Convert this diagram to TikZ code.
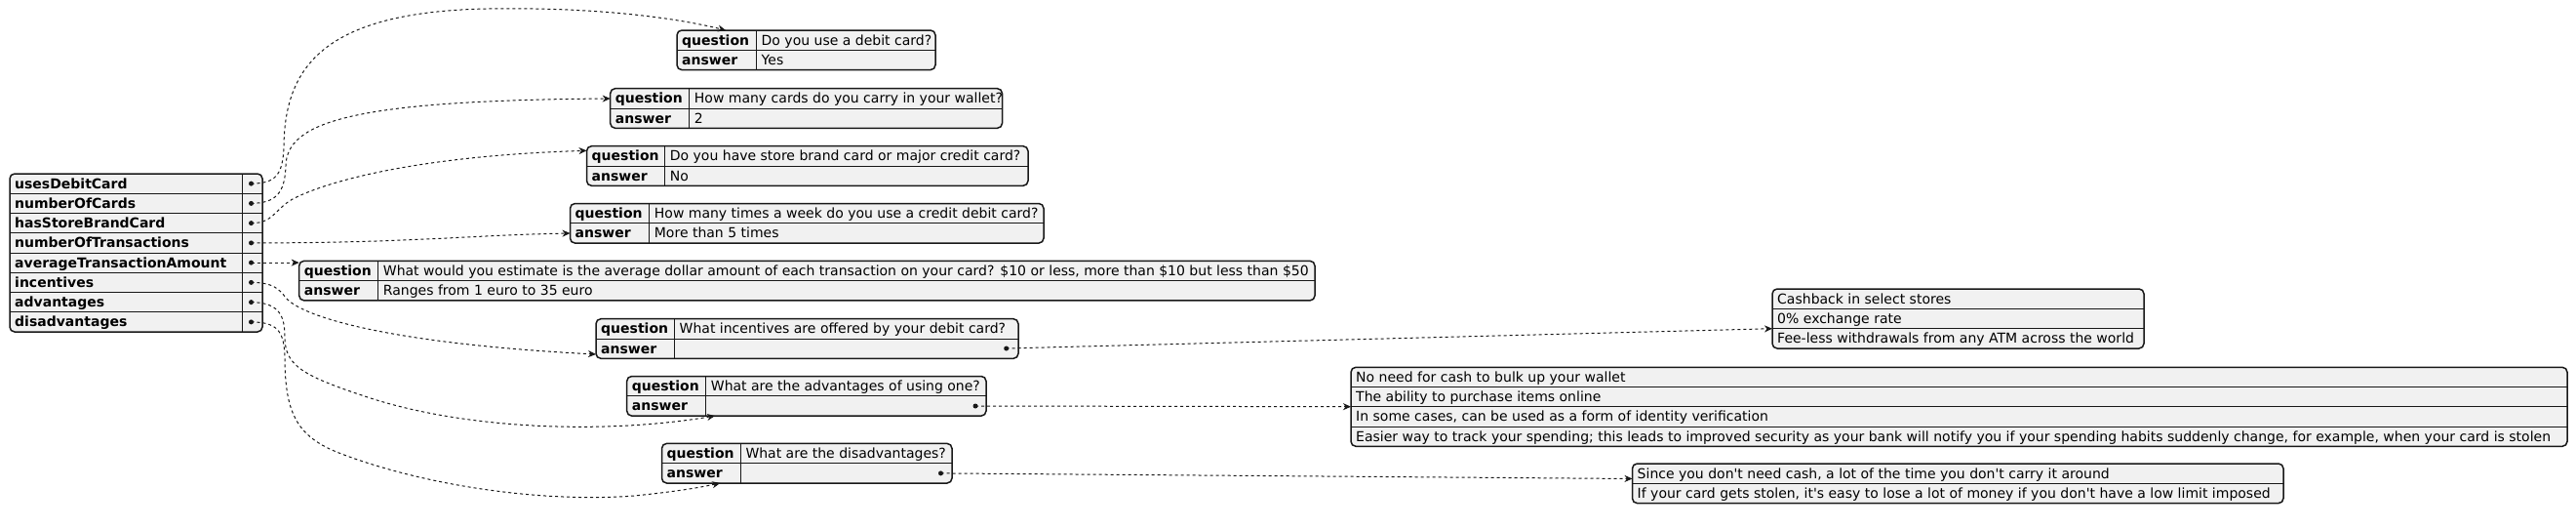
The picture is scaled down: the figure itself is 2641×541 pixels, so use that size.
\documentclass[tikz,border=0pt]{standalone}
\usepackage{fontspec}
\setmainfont{DejaVu Sans}
\usetikzlibrary{arrows.meta}
\definecolor{tblfill}{HTML}{F1F1F1}
\definecolor{linecol}{HTML}{181818}
\newcommand\objtab[7]{%
  \node[tbl, minimum width={#4-#2}, minimum height={#5-#3}] (#1) at (#2,#3) {};
  \pgfmathsetmacro\jrh{(#5-#3)/#7}
  \pgfmathtruncatemacro\jnm{#7-1}
  \foreach \i in {1,...,\jnm} {\draw[gridl] (#2,{#3+\i*\jrh}) -- (#4,{#3+\i*\jrh});}
  \draw[gridl] (#6,#3) -- (#6,#5);
}
\newcommand\arrtab[6]{%
  \node[tbl, minimum width={#4-#2}, minimum height={#5-#3}] (#1) at (#2,#3) {};
  \pgfmathsetmacro\jrh{(#5-#3)/#6}
  \pgfmathtruncatemacro\jnm{#6-1}
  \foreach \i in {1,...,\jnm} {\draw[gridl] (#2,{#3+\i*\jrh}) -- (#4,{#3+\i*\jrh});}
}
\begin{document}
\begin{tikzpicture}[x=1pt,y=-1pt,
  tbl/.style={draw=linecol, fill=tblfill, line width=1.5pt, rounded corners=5pt, inner sep=0pt, outer sep=0pt, anchor=north west},
  keyt/.style={font=\fontsize{14}{16}\selectfont\bfseries, anchor=base west, inner sep=0pt},
  valt/.style={font=\fontsize{14}{16}\selectfont, anchor=base west, inner sep=0pt},
  gridl/.style={draw=linecol, line width=1pt},
  jdot/.style={circle, fill=linecol, inner sep=0pt, minimum size=5pt},
  jedge/.style={draw=linecol, line width=1pt, dash pattern=on 3pt off 3pt, -{Stealth[length=8pt,width=7pt,inset=2.5pt]}}
]
\useasboundingbox (0,0) rectangle (2641,541);

% ---------- root object ----------
\objtab{root}{10}{178}{269}{340}{248}{8}
\node[keyt] (rk1) at (15,193) {usesDebitCard};
\node[keyt] (rk2) at (15,213.25) {numberOfCards};
\node[keyt] (rk3) at (15,233.5) {hasStoreBrandCard};
\node[keyt] (rk4) at (15,253.75) {numberOfTransactions};
\node[keyt] (rk5) at (15,274) {averageTransactionAmount};
\node[keyt] (rk6) at (15,294.25) {incentives};
\node[keyt] (rk7) at (15,314.5) {advantages};
\node[keyt] (rk8) at (15,334.75) {disadvantages};
\node[jdot] (rd1) at (257.5,188.1) {};
\node[jdot] (rd2) at (257.5,208.4) {};
\node[jdot] (rd3) at (257.5,228.6) {};
\node[jdot] (rd4) at (257.5,248.9) {};
\node[jdot] (rd5) at (257.5,269.1) {};
\node[jdot] (rd6) at (257.5,289.4) {};
\node[jdot] (rd7) at (257.5,309.6) {};
\node[jdot] (rd8) at (257.5,329.9) {};

% ---------- T1 ----------
\objtab{t1}{694}{31}{959}{71.6}{775.5}{2}
\node[keyt] (t1k1) at (699,46) {question};
\node[keyt] (t1k2) at (699,66.3) {answer};
\node[valt] (t1v1) at (780.5,46) {Do you use a debit card?};
\node[valt] (t1v2) at (780.5,66.3) {Yes};

% ---------- T2 ----------
\objtab{t2}{625.7}{90.7}{1027.5}{131.3}{706.7}{2}
\node[keyt] (t2k1) at (630.7,105.7) {question};
\node[keyt] (t2k2) at (630.7,126) {answer};
\node[valt] (t2v1) at (711.7,105.7) {How many cards do you carry in your wallet?};
\node[valt] (t2v2) at (711.7,126) {2};

% ---------- T3 ----------
\objtab{t3}{601.5}{149.7}{1054}{190.3}{681.7}{2}
\node[keyt] (t3k1) at (606.5,164.7) {question};
\node[keyt] (t3k2) at (606.5,185) {answer};
\node[valt] (t3v1) at (686.7,164.7) {Do you have store brand card or major credit card?};
\node[valt] (t3v2) at (686.7,185) {No};

% ---------- T4 ----------
\objtab{t4}{584.5}{208.5}{1070}{249.1}{665.7}{2}
\node[keyt] (t4k1) at (589.5,223.5) {question};
\node[keyt] (t4k2) at (589.5,243.8) {answer};
\node[valt] (t4v1) at (670.7,223.5) {How many times a week do you use a credit debit card?};
\node[valt] (t4v2) at (670.7,243.8) {More than 5 times};

% ---------- T5 ----------
\objtab{t5}{306.7}{267.3}{1348}{307.9}{387.7}{2}
\node[keyt] (t5k1) at (311.7,282.3) {question};
\node[keyt] (t5k2) at (311.7,302.6) {answer};
\node[valt] (t5v1) at (392.7,282.3) {What would you estimate is the average dollar amount of each transaction on your card? \$10 or less, more than \$10 but less than \$50};
\node[valt] (t5v2) at (392.7,302.6) {Ranges from 1 euro to 35 euro};

% ---------- T6 ----------
\objtab{t6}{611}{326.7}{1044}{367.3}{691.5}{2}
\node[keyt] (t6k1) at (616,341.7) {question};
\node[keyt] (t6k2) at (616,362) {answer};
\node[valt] (t6v1) at (696.5,341.7) {What incentives are offered by your debit card?};
\node[jdot] (t6d) at (1031.7,357) {};

% ---------- T7 ----------
\objtab{t7}{642.7}{385.5}{1011}{426.1}{723.7}{2}
\node[keyt] (t7k1) at (647.7,400.5) {question};
\node[keyt] (t7k2) at (647.7,420.8) {answer};
\node[valt] (t7v1) at (728.7,400.5) {What are the advantages of using one?};
\node[jdot] (t7d) at (1000,416) {};

% ---------- T8 ----------
\objtab{t8}{678.5}{454.4}{976}{495}{759.3}{2}
\node[keyt] (t8k1) at (683.5,469.4) {question};
\node[keyt] (t8k2) at (683.5,489.7) {answer};
\node[valt] (t8v1) at (764.3,469.4) {What are the disadvantages?};
\node[jdot] (t8d) at (964.5,484.9) {};

% ---------- arrays ----------
\arrtab{a1}{1817}{296}{2198}{357}{3}
\node[valt] (a1v1) at (1822,311) {Cashback in select stores};
\node[valt] (a1v2) at (1822,331.3) {0\% exchange rate};
\node[valt] (a1v3) at (1822,351.7) {Fee-less withdrawals from any ATM across the world};

\arrtab{a2}{1385}{376.3}{2632}{457.3}{4}
\node[valt] (a2v1) at (1390,391.3) {No need for cash to bulk up your wallet};
\node[valt] (a2v2) at (1390,411.55) {The ability to purchase items online};
\node[valt] (a2v3) at (1390,431.8) {In some cases, can be used as a form of identity verification};
\node[valt] (a2v4) at (1390,452.05) {Easier way to track your spending; this leads to improved security as your bank will notify you if your spending habits suddenly change, for example, when your card is stolen};

\arrtab{a3}{1673.5}{475}{2341}{515.6}{2}
\node[valt] (a3v1) at (1678.5,490) {Since you don\textquotesingle t need cash, a lot of the time you don\textquotesingle t carry it around};
\node[valt] (a3v2) at (1678.5,510.3) {If your card gets stolen, it\textquotesingle s easy to lose a lot of money if you don\textquotesingle t have a low limit imposed};

% ---------- connector ends ----------
\coordinate (t1in) at (744,31);
\coordinate (t2in) at (625.7,101);
\coordinate (t3in) at (601.5,154.3);
\coordinate (t4in) at (584.5,239);
\coordinate (t5in) at (306.7,269.1);
\coordinate (t6in) at (611,363);
\coordinate (t7in) at (733,426.1);
\coordinate (t8in) at (738.3,495);
\coordinate (a1in) at (1817,336.7);
\coordinate (a2in) at (1385,416.7);
\coordinate (a3in) at (1673.5,490.5);

% ---------- connectors ----------
\draw[jedge] (rd1.center) .. controls (282,188) and (290,180) .. (291,150)
  .. controls (292,70) and (330,12) .. (500,9)
  .. controls (620,7) and (700,20) .. (t1in);
\draw[jedge] (rd2.center) .. controls (283,208) and (292,198) .. (293,170)
  .. controls (294,125) and (360,103) .. (t2in);
\draw[jedge] (rd3.center) .. controls (280,229) and (282,214) .. (300,204)
  .. controls (330,188) and (420,160) .. (t3in);
\draw[jedge] (rd4.center) .. controls (420,249) and (480,241) .. (t4in);
\draw[jedge] (rd5.center) -- (t5in);
\draw[jedge] (rd6.center) .. controls (280,289.4) and (286,296) .. (293,305)
  .. controls (310,325) and (400,352) .. (t6in);
\draw[jedge] (rd7.center) .. controls (285,310) and (292,322) .. (292,345)
  .. controls (292,375) and (310,385) .. (380,408)
  .. controls (480,440) and (620,445) .. (t7in);
\draw[jedge] (rd8.center) .. controls (285,330) and (291,340) .. (292,365)
  .. controls (292,425) and (305,448) .. (350,465)
  .. controls (440,499) and (560,515) .. (650,508)
  .. controls (690,504) and (715,500) .. (t8in);
\draw[jedge] (t6d.center) -- (a1in);
\draw[jedge] (t7d.center) -- (a2in);
\draw[jedge] (t8d.center) -- (a3in);
\end{tikzpicture}
\end{document}
